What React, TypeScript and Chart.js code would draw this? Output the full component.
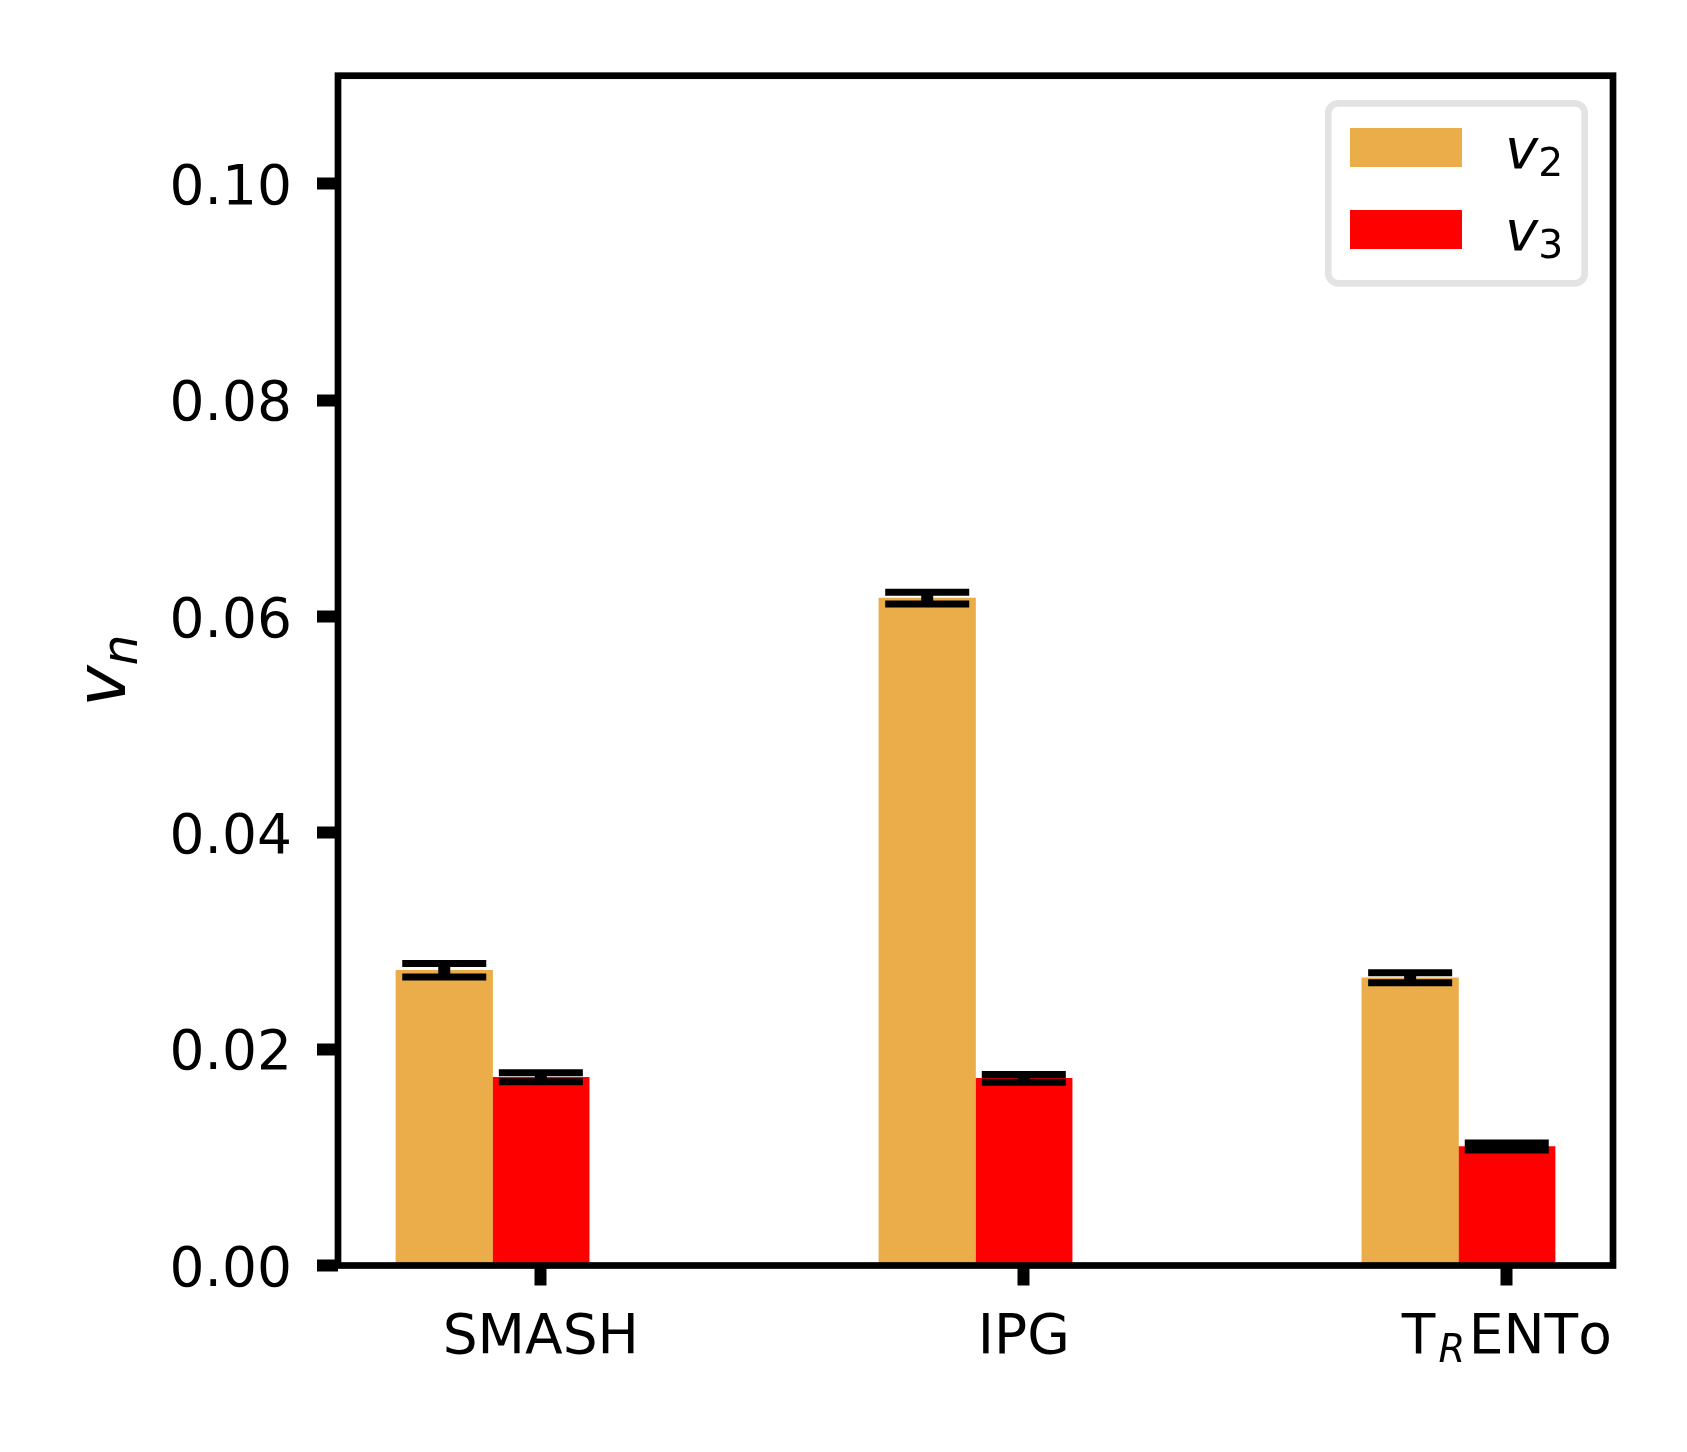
import { useEffect, useRef } from "react";
import { Chart, registerables } from "chart.js";

Chart.register(...registerables);

// ---- data ----
const categories = ["SMASH", "IPG", "T$_R$ENTo"];
const categoryPositions = [0, 1, 2];
const seriesLabels = ["$v_2$", "$v_3$"];
const seriesOffsets = [-0.2, 0];
const v2Values = [0.0273, 0.0617, 0.0266];
const v2Errors = [0.00062, 0.00055, 0.00046];
const v3Values = [0.0174, 0.0173, 0.0110];
const v3Errors = [0.00042, 0.00035, 0.00032];
const yTickValues = [0, 0.02, 0.04, 0.06, 0.08, 0.1];
const yAxisLabel = "$v_n$";
const xRange = [-0.42, 2.22];
const yRange = [0, 0.11];

const seriesColors = ["#EBAD4A", "#FF0000"];
const FONT = "'DejaVu Sans', 'Liberation Sans', sans-serif";

type Seg = { text: string; sub: boolean; italic: boolean };

function parseLabel(s: string): Seg[] {
  const segs: Seg[] = [];
  let math = false;
  for (let i = 0; i < s.length; i++) {
    const ch = s[i];
    if (ch === "$") {
      math = !math;
      continue;
    }
    let sub = false;
    let c = ch;
    if (ch === "_") {
      sub = true;
      i++;
      c = s[i];
    }
    const italic = math && /[A-Za-z]/.test(c);
    const last = segs[segs.length - 1];
    if (last && last.sub === sub && last.italic === italic) last.text += c;
    else segs.push({ text: c, sub, italic });
  }
  return segs;
}

function segFont(seg: Seg, F: number) {
  const size = seg.sub ? F * 0.7 : F;
  return `${seg.italic ? "italic " : ""}${size}px ${FONT}`;
}

function drawRich(
  ctx: CanvasRenderingContext2D,
  label: string,
  x: number,
  y: number,
  F: number,
  align: "left" | "center",
  subShift: number,
  subPad: number
) {
  const segs = parseLabel(label);
  (ctx as any).fontKerning = "none";
  let total = 0;
  const widths: number[] = [];
  segs.forEach((seg, i) => {
    ctx.font = segFont(seg, F);
    let w = ctx.measureText(seg.text).width;
    if (seg.sub && i < segs.length - 1) w += subPad * F;
    if (seg.sub && i > 0) w += subPad * F;
    widths.push(w);
    total += w;
  });
  let cx = align === "center" ? x - total / 2 : x;
  ctx.textAlign = "left";
  ctx.textBaseline = "alphabetic";
  segs.forEach((seg, i) => {
    ctx.font = segFont(seg, F);
    const pre = seg.sub && i > 0 ? subPad * F : 0;
    ctx.fillText(seg.text, cx + pre, y + (seg.sub ? subShift * F : 0));
    cx += widths[i];
  });
}

const seriesValues = [v2Values, v3Values];
const seriesErrors = [v2Errors, v3Errors];

const decorPlugin = {
  id: "decor",
  afterDraw(chart: any) {
    const ctx: CanvasRenderingContext2D = chart.ctx;
    const xs = chart.scales.x;
    const ys = chart.scales.y;
    const area = chart.chartArea;
    ctx.save();

    // error bars
    ctx.strokeStyle = "#000";
    ctx.lineCap = "butt";
    seriesValues.forEach((vals, si) => {
      vals.forEach((v, i) => {
        const e = seriesErrors[si][i];
        const px = xs.getPixelForValue(categoryPositions[i] + seriesOffsets[si]);
        const yHi = ys.getPixelForValue(v + e);
        const yLo = ys.getPixelForValue(v - e);
        ctx.lineWidth = 12;
        ctx.beginPath();
        ctx.moveTo(px, yHi);
        ctx.lineTo(px, yLo);
        ctx.stroke();
        ctx.lineWidth = 7;
        ctx.beginPath();
        ctx.moveTo(px - 42, yHi);
        ctx.lineTo(px + 42, yHi);
        ctx.moveTo(px - 42, yLo);
        ctx.lineTo(px + 42, yLo);
        ctx.stroke();
      });
    });

    // spines
    ctx.lineWidth = 6.7;
    ctx.lineJoin = "miter";
    ctx.strokeStyle = "#000";
    ctx.strokeRect(area.left, area.top, area.right - area.left, area.bottom - area.top);

    // legend
    const fx = area.right - 284.7;
    const fy = area.top + 27.6;
    ctx.beginPath();
    (ctx as any).roundRect(fx, fy, 256.4, 180, 10);
    ctx.fillStyle = "#fff";
    ctx.fill();
    ctx.lineWidth = 6.7;
    ctx.strokeStyle = "#e3e3e3";
    ctx.stroke();
    seriesLabels.forEach((lab, i) => {
      const top = area.top + 52.3 + i * 82;
      ctx.fillStyle = seriesColors[i];
      ctx.fillRect(area.right - 263, top, 112, 39);
      ctx.fillStyle = "#000";
      drawRich(ctx, lab, area.right - 108, top + 39.7, 56, "left", 0.14, 0);
    });

    // x tick labels
    ctx.fillStyle = "#000";
    categories.forEach((c, i) => {
      const px = xs.getPixelForValue(categoryPositions[i]);
      drawRich(ctx, c, px, area.bottom + 87.8, 55, "center", 0.15, 0.06);
    });

    // y axis label
    ctx.save();
    ctx.translate(125, (area.top + area.bottom) / 2);
    ctx.rotate(-Math.PI / 2);
    drawRich(ctx, yAxisLabel, 0, 0, 70, "center", 0.17, 0);
    ctx.restore();

    ctx.restore();
  },
};

export default function App() {
  const ref = useRef<HTMLCanvasElement>(null);
  useEffect(() => {
    const canvas = ref.current!;
    const chart = new Chart(canvas, {
      type: "bar",
      data: {
        datasets: seriesValues.map((vals, si) => ({
          label: seriesLabels[si],
          data: vals.map((v, i) => ({ x: categoryPositions[i] + seriesOffsets[si], y: v })),
          backgroundColor: seriesColors[si],
          borderWidth: 0,
        })),
      },
      options: {
        animation: false,
        responsive: false,
        devicePixelRatio: 1,
        layout: { padding: { left: 0, right: 74, top: 75.7, bottom: 0 } },
        datasets: {
          bar: { grouped: false, categoryPercentage: 1, barPercentage: 1 },
        },
        plugins: { legend: { display: false }, tooltip: { enabled: false } },
        scales: {
          x: {
            type: "linear",
            min: xRange[0],
            max: xRange[1],
            offset: false,
            border: { display: false },
            grid: {
              offset: false,
              drawOnChartArea: false,
              drawTicks: true,
              tickLength: 20,
              tickWidth: 12,
              tickColor: "#000",
            },
            ticks: { callback: () => "", autoSkip: false },
            afterBuildTicks: (s: any) => {
              s.ticks = categoryPositions.map((v) => ({ value: v }));
            },
            afterFit: (s: any) => {
              s.height = 186.5;
            },
          },
          y: {
            type: "linear",
            min: yRange[0],
            max: yRange[1],
            border: { display: false },
            grid: {
              drawOnChartArea: false,
              drawTicks: true,
              tickLength: 21,
              tickWidth: 12,
              tickColor: "#000",
            },
            ticks: {
              color: "#000",
              padding: 25,
              labelOffset: 6,
              font: { family: FONT, size: 55 },
              callback: (v: any) => Number(v).toFixed(2),
            },
            afterBuildTicks: (s: any) => {
              s.ticks = yTickValues.map((v) => ({ value: v }));
            },
            afterFit: (s: any) => {
              s.width = 338;
            },
          },
        },
      } as any,
      plugins: [decorPlugin],
    });
    return () => chart.destroy();
  }, []);
  return (
    <div
      style={{
        position: "absolute",
        left: 0,
        top: 0,
        width: 1687,
        height: 1452,
        background: "#fff",
      }}
    >
      <canvas ref={ref} width={1687} height={1452} style={{ display: "block" }} />
    </div>
  );
}
